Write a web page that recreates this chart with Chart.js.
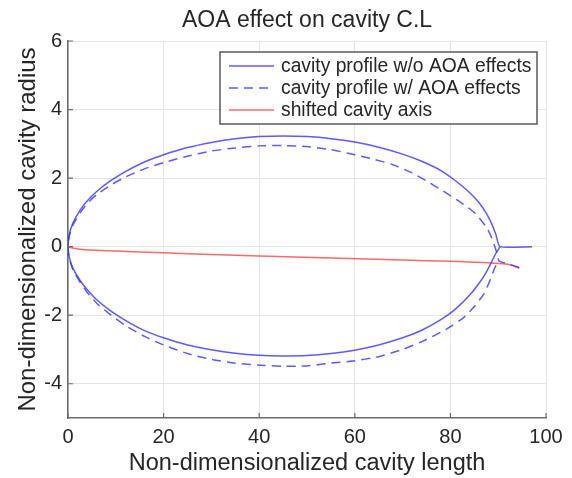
<!DOCTYPE html>
<html>
<head>
<meta charset="utf-8">
<title>AOA effect on cavity C.L</title>
<script src="https://cdn.jsdelivr.net/npm/chart.js@4.4.1/dist/chart.umd.min.js"></script>
<style>
  html, body { margin: 0; padding: 0; background: #fff; }
  #wrap { width: 572px; height: 478px; }
</style>
</head>
<body>
<div id="wrap"><canvas id="cavityChart" width="572" height="478"></canvas></div>
<script>
// ---------------- Data ----------------
const titleText = "AOA effect on cavity C.L";
const xTitle = "Non-dimensionalized cavity length";
const yTitle = "Non-dimensionalized cavity radius";
const xTicks = [0, 20, 40, 60, 80, 100];
const yTicks = [-4, -2, 0, 2, 4, 6];
const seriesLabels = [
  "cavity profile w/o AOA effects",
  "cavity profile w/ AOA effects",
  "shifted cavity axis"
];

// cavity profile w/o AOA effects (tail -> upper branch -> nose -> lower branch)
const noAoaX = [97.1, 90.4, 89.5, 88.6, 87.5, 86, 84, 81, 78, 74, 70, 65, 60, 55, 50, 45, 40, 35, 30, 25, 20, 16, 12, 9, 6, 4, 2.5, 1, 0.25, 0,
  0.25, 1, 2.5, 4, 6, 9, 12, 16, 20, 25, 30, 35, 40, 45, 50, 55, 60, 65, 70, 74, 78, 81, 84, 86, 87.5, 88.6, 89.5, 90.4];
const noAoaY = [0, 0, 0.36, 0.68, 0.98, 1.28, 1.58, 1.93, 2.22, 2.49, 2.7, 2.9, 3.05, 3.15, 3.21, 3.23, 3.21, 3.15, 3.04, 2.89, 2.68, 2.47, 2.19, 1.93, 1.61, 1.33, 1.06, 0.68, 0.34, 0,
  -0.3, -0.62, -0.98, -1.25, -1.55, -1.88, -2.15, -2.45, -2.66, -2.87, -3.01, -3.11, -3.17, -3.19, -3.18, -3.12, -3.02, -2.87, -2.66, -2.44, -2.13, -1.83, -1.42, -1.07, -0.75, -0.45, -0.2, 0];

// cavity profile w/ AOA effects (tail -> upper branch -> nose -> lower branch)
const aoaX = [94.4, 92, 90.2, 89.8, 89.3, 88.5, 87.6, 85.5, 83.5, 81.3, 78.5, 75.7, 72, 68, 64, 60, 55, 50, 45, 40, 35, 30, 25, 20, 16, 12, 9, 6, 4, 2.5, 1, 0.25, 0,
  0.25, 1, 2.5, 4, 6, 9, 12, 16, 20, 25, 30, 35, 40, 45, 50, 55, 60, 65, 70, 75, 79, 82.7, 85, 86.9, 88, 89, 89.7, 90.2];
const aoaY = [-0.61, -0.5, -0.42, -0.22, 0, 0.3, 0.55, 0.93, 1.16, 1.37, 1.62, 1.86, 2.15, 2.39, 2.55, 2.68, 2.83, 2.92, 2.95, 2.94, 2.88, 2.79, 2.64, 2.45, 2.27, 2.03, 1.8, 1.52, 1.25, 0.98, 0.62, 0.3, 0,
  -0.33, -0.66, -1.03, -1.33, -1.65, -2.0, -2.3, -2.62, -2.87, -3.12, -3.29, -3.4, -3.46, -3.49, -3.48, -3.4, -3.33, -3.21, -3.0, -2.71, -2.42, -2.08, -1.75, -1.4, -1.08, -0.72, -0.5, -0.42];

// shifted cavity axis
const axisX = [0, 1, 3, 10, 20, 30, 40, 55, 70, 80, 91, 93, 94.4];
const axisY = [0, -0.04, -0.08, -0.13, -0.18, -0.23, -0.27, -0.33, -0.39, -0.43, -0.5, -0.55, -0.63];

// ---------------- Style ----------------
const FONT = "'Liberation Sans', Arial, Helvetica, sans-serif";
const TEXT = "#262626";
const AXIS = "#6b6b6b";
const GRID = "#e4e4e4";
const BLUE = "rgba(50, 50, 255, 0.8)";
const RED = "rgba(255, 55, 55, 0.75)";

const toPoints = (xs, ys) => xs.map((x, i) => ({ x, y: ys[i] }));

// ---------------- Plugins ----------------
// title centred over the axes, not over the whole canvas
const axesTitle = {
  id: "axesTitle",
  afterDraw(chart) {
    const c = chart.ctx;
    const a = chart.chartArea;
    c.save();
    c.font = `23px ${FONT}`;
    c.fillStyle = TEXT;
    c.textAlign = "center";
    c.textBaseline = "middle";
    c.fillText(titleText, (a.left + a.right) / 2, 21);
    c.restore();
  }
};

// MATLAB style tick marks pointing into the axes
const inwardTicks = {
  id: "inwardTicks",
  afterDatasetsDraw(chart) {
    const { ctx: c, chartArea: a, scales: { x, y } } = chart;
    c.save();
    c.strokeStyle = AXIS;
    c.lineWidth = 1.2;
    c.beginPath();
    xTicks.forEach(v => {
      const px = x.getPixelForValue(v);
      c.moveTo(px, a.bottom);
      c.lineTo(px, a.bottom - 5);
    });
    yTicks.forEach(v => {
      const py = y.getPixelForValue(v);
      c.moveTo(a.left, py);
      c.lineTo(a.left + 5, py);
    });
    c.stroke();
    c.restore();
  }
};

// boxed legend in the upper right corner of the axes
const boxLegend = {
  id: "boxLegend",
  afterDraw(chart) {
    const c = chart.ctx;
    const a = chart.chartArea;
    const w = 317, h = 72;
    const left = a.right - 9 - w, top = a.top + 11;
    c.save();
    c.fillStyle = "#fff";
    c.fillRect(left, top, w, h);
    c.strokeStyle = "#5a5a5a";
    c.lineWidth = 1.5;
    c.strokeRect(left, top, w, h);
    c.font = `19.3px ${FONT}`;
    c.textBaseline = "middle";
    c.fillStyle = TEXT;
    chart.data.datasets.forEach((ds, i) => {
      const y = top + 14 + i * 22;
      c.strokeStyle = ds.borderColor;
      c.lineWidth = ds.borderWidth;
      c.setLineDash(ds.borderDash || []);
      c.beginPath();
      c.moveTo(left + 9, y);
      c.lineTo(left + 54, y);
      c.stroke();
      c.setLineDash([]);
      c.fillText(ds.label, left + 61, y + 1);
    });
    c.restore();
  }
};

// ---------------- Chart ----------------
const lineStyle = { showLine: true, borderWidth: 1.5, pointRadius: 0, fill: false, tension: 0.2 };

new Chart(document.getElementById("cavityChart"), {
  type: "scatter",
  data: {
    datasets: [
      { ...lineStyle, label: seriesLabels[0], data: toPoints(noAoaX, noAoaY), borderColor: BLUE },
      { ...lineStyle, label: seriesLabels[1], data: toPoints(aoaX, aoaY), borderColor: BLUE, borderDash: [9, 6] },
      { ...lineStyle, label: seriesLabels[2], data: toPoints(axisX, axisY), borderColor: RED }
    ]
  },
  options: {
    responsive: false,
    animation: false,
    layout: { padding: { top: 41, right: 26, left: 0, bottom: 0 } },
    plugins: {
      legend: { display: false },
      tooltip: { enabled: false },
      title: { display: false }
    },
    scales: {
      x: {
        type: "linear",
        min: 0,
        max: 100,
        afterBuildTicks: s => { s.ticks = xTicks.map(v => ({ value: v })); },
        afterFit: s => { s.height = 60; },
        grid: { color: GRID, drawTicks: false },
        border: { color: AXIS, width: 1.5 },
        ticks: { color: TEXT, font: { family: FONT, size: 20 }, padding: 7, maxRotation: 0 },
        title: { display: true, text: xTitle, color: TEXT, font: { family: FONT, size: 23.5 }, padding: { top: 0, bottom: 0 } }
      },
      y: {
        type: "linear",
        min: -5,
        max: 6,
        afterBuildTicks: s => { s.ticks = yTicks.map(v => ({ value: v })); },
        afterFit: s => { s.width = 68; },
        grid: { color: GRID, drawTicks: false },
        border: { color: AXIS, width: 1.5 },
        ticks: { color: TEXT, font: { family: FONT, size: 20 }, padding: 6 },
        title: { display: true, text: yTitle, color: TEXT, font: { family: FONT, size: 24 }, padding: { top: 14, bottom: 0 } }
      }
    }
  },
  plugins: [inwardTicks, boxLegend, axesTitle]
});
</script>
</body>
</html>
